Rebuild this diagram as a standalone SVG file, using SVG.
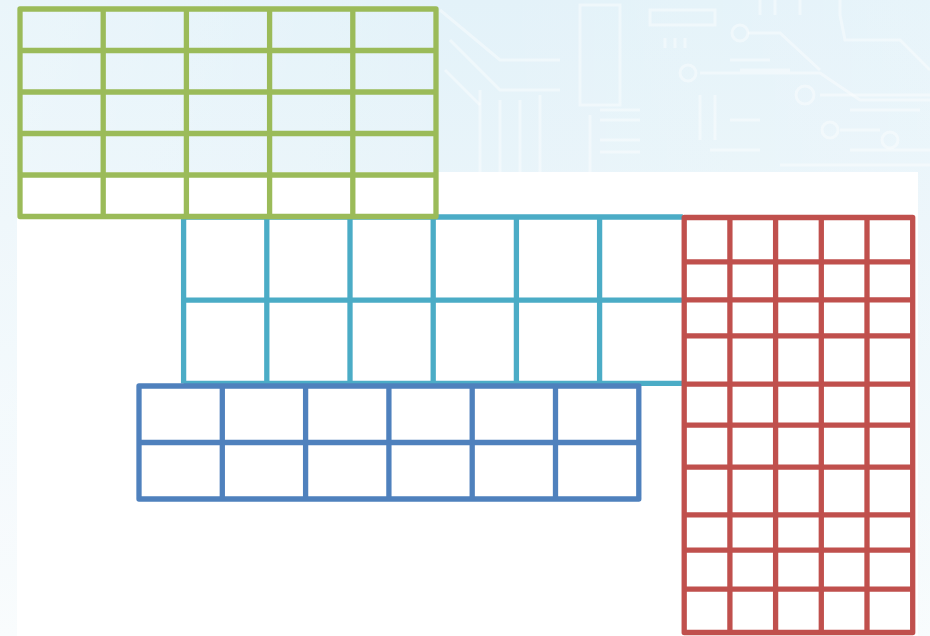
<svg xmlns="http://www.w3.org/2000/svg" width="930" height="636" viewBox="0 0 930 636">
  <defs>
    <linearGradient id="bg" x1="0" y1="0" x2="0" y2="1">
      <stop offset="0" stop-color="#E3F2F9"/>
      <stop offset="0.35" stop-color="#EAF5FA"/>
      <stop offset="1" stop-color="#F7FBFD"/>
    </linearGradient>
    <linearGradient id="bgx" x1="0" y1="0" x2="1" y2="0">
      <stop offset="0" stop-color="#FFFFFF" stop-opacity="0.25"/>
      <stop offset="0.5" stop-color="#FFFFFF" stop-opacity="0"/>
      <stop offset="1" stop-color="#FFFFFF" stop-opacity="0.15"/>
    </linearGradient>
  </defs>
  <style>
    .trace { fill: none; stroke: #FFFFFF; stroke-opacity: 0.4; stroke-width: 3; }
    .pad { fill: none; stroke: #FFFFFF; stroke-opacity: 0.4; stroke-width: 3; }
    .grid { fill: none; stroke-width: 5.3; stroke-linejoin: round; }
    .g { stroke: #9BBB59; }
    .c { stroke: #4BACC6; }
    .b { stroke: #4F81BD; }
    .r { stroke: #C0504D; }
  </style>

  <!-- background -->
  <rect x="0" y="0" width="930" height="636" fill="url(#bg)"/>
  <rect x="0" y="0" width="930" height="636" fill="url(#bgx)"/>
  <g id="circuit">
    <path class="trace" d="M440 10 L500 60 L560 60 M450 40 L500 90 L560 90 M445 70 L480 105"/>
    <rect class="pad" x="580" y="5" width="40" height="100"/>
    <path class="trace" d="M600 110 L640 110 M600 120 L640 120 M600 140 L640 140 M600 152 L640 152"/>
    <rect class="pad" x="650" y="10" width="65" height="15"/>
    <path class="trace" d="M665 38 L665 48 M675 38 L675 48 M685 38 L685 48"/>
    <path class="trace" d="M730 60 L770 60 M740 70 L790 70 M700 73 L820 73 L860 100 L930 100"/>
    <circle class="pad" cx="688" cy="73" r="8"/>
    <circle class="pad" cx="740" cy="33" r="8"/>
    <path class="trace" d="M748 33 L780 33 L820 70"/>
    <path class="trace" d="M820 95 L930 95 M850 110 L920 110"/>
    <circle class="pad" cx="805" cy="95" r="9"/>
    <path class="trace" d="M840 0 L840 15 L845 40 L900 40 L930 70"/>
    <path class="trace" d="M760 0 L760 15 M775 0 L775 15 M800 0 L800 15"/>
    <path class="trace" d="M700 95 L700 140 M715 95 L715 140 M730 120 L760 120 M710 150 L760 150"/>
    <circle class="pad" cx="830" cy="130" r="8"/>
    <circle class="pad" cx="890" cy="140" r="8"/>
    <path class="trace" d="M840 130 L880 130 M850 150 L930 150 M780 165 L930 165"/>
    <path class="trace" d="M480 90 L480 172 M500 100 L500 172 M520 100 L520 172 M540 95 L540 172"/>
    <path class="trace" d="M590 115 L590 172"/>
  </g>

  <!-- white content area -->
  <rect x="17" y="172" width="901" height="464" fill="#FFFFFF"/>

  <g id="grid-cyan">
    <path class="grid c" d="M183.6 217 H682.8 M183.6 300.2 H682.8 M183.6 383.4 H682.8
      M183.6 217 V383.4 M266.8 217 V383.4 M350 217 V383.4 M433.2 217 V383.4 M516.4 217 V383.4 M599.6 217 V383.4"/>
  </g>

  <g id="grid-green">
    <rect class="grid g" x="20" y="9" width="416" height="207.5"/>
    <path class="grid g" d="M20 50.5 H436 M20 92 H436 M20 133.5 H436 M20 175 H436
      M103.2 9 V216.5 M186.4 9 V216.5 M269.6 9 V216.5 M352.8 9 V216.5"/>
  </g>

  <g id="grid-blue">
    <rect class="grid b" x="139" y="386" width="499.8" height="113"/>
    <path class="grid b" d="M139 442.5 H638.8
      M222.3 386 V499 M305.6 386 V499 M388.9 386 V499 M472.2 386 V499 M555.5 386 V499"/>
  </g>

  <g id="grid-red">
    <rect class="grid r" x="684.2" y="217.5" width="228.5" height="415"/>
    <path class="grid r" d="M684.2 261.8 H912.7 M684.2 299.8 H912.7 M684.2 335.8 H912.7 M684.2 384.2 H912.7
      M684.2 425.2 H912.7 M684.2 467.2 H912.7 M684.2 514.8 H912.7 M684.2 550.2 H912.7 M684.2 589.2 H912.7
      M729.9 217.5 V632.5 M775.6 217.5 V632.5 M821.3 217.5 V632.5 M867 217.5 V632.5"/>
  </g>
</svg>
